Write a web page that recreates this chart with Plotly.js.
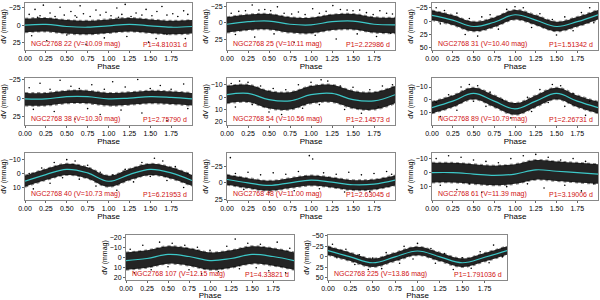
<!DOCTYPE html>
<html><head><meta charset="utf-8">
<script src="https://cdn.plot.ly/plotly-3.0.1.min.js"></script>
<style>html,body{margin:0;padding:0;background:#fff}#c{width:600px;height:300px}</style>
</head><body><div id="c"></div>
<script>
// Phase grid for fit curves and dense-band envelopes
const phase = [0, 0.25, 0.5, 0.75, 1.0, 1.25, 1.5, 1.75, 2.0];
const xTickVals = [0, 0.25, 0.5, 0.75, 1.0, 1.25, 1.5, 1.75];
const xTickText = ['0.00','0.25','0.50','0.75','1.00','1.25','1.50','1.75'];

const names = ['NGC2768 22 (V=10.09 mag)','NGC2768 25 (V=10.11 mag)','NGC2768 31 (V=10.40 mag)',
  'NGC2768 38 (V=10.30 mag)','NGC2768 54 (V=10.56 mag)','NGC2768 89 (V=10.79 mag)',
  'NGC2768 40 (V=10.73 mag)','NGC2768 48 (V=11.00 mag)','NGC2768 61 (V=11.39 mag)',
  'NGC2768 107 (V=12.15 mag)','NGC2768 225 (V=13.86 mag)'];
const periods = ['P1=4.81031 d','P1=2.22986 d','P1=1.51342 d','P1=2.75790 d','P1=2.14573 d',
  'P1=2.26731 d','P1=6.21953 d','P1=2.63045 d','P1=3.19006 d','P1=4.33821 d','P1=1.791036 d'];

// fitted curves (dV, mmag) at phase grid
const fit1 = [0, -1, 2, 3, 1, -1, 1, 3, 2];
const fit2 = [2, -2, -3, 2, 3, -2, -3, 2, 3];
const fit3 = [-11, -2, 10, 2, -12, -2, 10, 1, -12];
const fit4 = [1, 1, -2, -2, 1, 0, -2, -1, 1];
const fit5 = [-2, -3, 2, 3, -2, -3, 2, 3, -2];
const fit6 = [6, 1, -5, 1, 7, 1, -5, 1, 6];
const fit7 = [5.5, 0.7, -3, -0.5, 5.5, 0.7, -3, -0.5, 5];
const fit8 = [-5, 0, 4, 0, -4, -1, 3, 2, -4];
const fit9 = [0, 0, 1, 2, 1, -2, -1, 0, 1];
const fit10 = [3, 1, -3, -1, 3, 1, -3, -1, 3];
const fit11 = [-15, 0, 14, 0, -14, 0, 14, 1, -15];

// dense data band: upper (bright, negative) and lower envelopes
const lo1 = [-9, -10, -7, -6, -8, -10, -8, -6, -7];
const hi1 = [10, 9, 12, 13, 11, 9, 11, 13, 12];
const lo2 = [-9, -13, -14, -9, -8, -13, -14, -9, -8];
const hi2 = [15, 11, 10, 15, 16, 11, 10, 15, 16];
const lo3 = [-20, -11, 1, -7, -21, -11, 1, -8, -21];
const hi3 = [-2, 7, 19, 11, -3, 7, 19, 10, -3];
const lo4 = [-7, -7, -10, -10, -7, -8, -10, -9, -7];
const hi4 = [10, 10, 7, 7, 10, 9, 7, 8, 10];
const lo5 = [-9, -10, -5, -4, -9, -10, -5, -4, -9];
const hi5 = [5, 4, 9, 10, 5, 4, 9, 10, 5];
const lo6 = [1.5, -3.5, -9.5, -3.5, 2.5, -3.5, -9.5, -3.5, 1.5];
const hi6 = [10.5, 5.5, -0.5, 5.5, 11.5, 5.5, -0.5, 5.5, 10.5];
const lo7 = [1.5, -3.3, -7, -4.5, 1.5, -3.3, -7, -4.5, 1];
const hi7 = [9.5, 4.7, 1, 3.5, 9.5, 4.7, 1, 3.5, 9];
const lo8 = [-12, -7, -3, -7, -11, -8, -4, -5, -11];
const hi8 = [3, 8, 12, 8, 4, 7, 11, 10, 4];
const lo9 = [-7, -7, -6, -5, -6, -9, -8, -7, -6];
const hi9 = [7, 7, 8, 9, 8, 5, 6, 7, 8];
const lo10 = [-5, -7, -11, -9, -5, -7, -11, -9, -5];
const hi10 = [12, 10, 6, 8, 12, 10, 6, 8, 12];
const lo11 = [-25, -10, 4, -10, -24, -10, 4, -9, -25];
const hi11 = [-5, 10, 24, 10, -4, 10, 24, 11, -5];

// scattered outlying points (phase, dV)
const outX1 = [0.05,0.12,0.18,0.22,0.3,0.36,0.42,0.47,0.55,0.6,0.66,0.7,0.78,0.85,0.9,0.97,1.03,1.1,1.16,1.2,1.27,1.33,1.4,1.45,1.52,1.58,1.64,1.7,1.77,1.83,1.9,1.95,0.08,0.26,0.5,0.73,0.95,1.22,1.48,1.7,1.92,0.15,0.62,1.12,1.57];
const outY1 = [-15,-22,-13,-28,-17,-12,-25,-14,-19,-13,-27,-16,-12,-21,-14,-18,-13,-24,-15,-29,-12,-17,-14,-22,-13,-19,-26,-14,-16,-12,-20,-15,15,22,14,27,18,16,24,13,19,-11,-11,-11,19];
const outX2 = [0.05,0.14,0.22,0.3,0.38,0.45,0.52,0.6,0.68,0.77,0.85,0.93,1.02,1.1,1.18,1.26,1.35,1.43,1.5,1.58,1.66,1.74,1.82,1.9,1.97,0.1,0.33,0.56,0.8,1.05,1.3,1.55,1.78,1.95];
const outY2 = [-15,-18,-19,-28,-20,-21,-19,-25,-15,-14,-17,-13,-22,-15,-18,-27,-21,-20,-19,-20,-16,-13,-19,-15,-14,18,22,17,30,19,25,17,21,16];
const outX3 = [0.05,0.15,0.3,0.45,0.6,0.7,0.9,1.0,1.1,1.3,1.45,1.6,1.8,1.9,0.1,0.4,0.55,0.8,1.2,1.5,1.7,1.95];
const outY3 = [-25,-20,-15,-5,-8,-12,-22,-27,-25,-14,-3,-8,-16,-25,5,25,28,15,12,26,18,3];
const outX4 = [0.05,0.18,0.3,0.42,0.55,0.65,0.8,0.95,1.05,1.2,1.35,1.5,1.62,1.75,1.9,0.1,0.35,0.6,0.75,0.9,1.15,1.4,1.7,1.95];
const outY4 = [-14,-20,-12,-24,-16,-13,-18,-12,-22,-15,-25,-13,-17,-12,-19,15,18,28,14,22,16,20,30,14];
const outX5 = [0.05,0.15,0.25,0.4,0.55,0.7,0.85,1.0,1.12,1.2,1.35,1.5,1.7,1.85,1.97,0.1,0.3,0.5,0.65,0.9,1.1,1.4,1.6,1.8];
const outY5 = [-11,-13,-12,-9,-7,-6,-10,-12,-14,-13,-9,-8,-6,-9,-10,8,6,12,14,9,6,10,13,8];
const outX6 = [0.05,0.2,0.35,0.45,0.55,0.7,0.85,1.0,1.15,1.3,1.45,1.55,1.7,1.9,0.1,0.3,0.5,0.65,0.95,1.2,1.4,1.6,1.85];
const outY6 = [2,-4,-10,-12,-11,-6,0,3,-2,-8,-12,-11,-5,1,13,8,1,5,14,9,2,5,12];
const outX7 = [0.05,0.2,0.35,0.5,0.6,0.75,0.9,1.05,1.2,1.4,1.55,1.65,1.8,1.95,0.1,0.3,0.45,0.65,0.85,1.1,1.3,1.5,1.7,1.9];
const outY7 = [0,-4,-8,-10,-9,-6,-1,1,-3,-8,-11,-9,-5,0,11,7,3,4,9,12,6,2,5,10];
const outX8 = [0.04,0.1,0.25,0.4,0.55,0.7,0.85,0.98,1.02,1.15,1.3,1.45,1.6,1.75,1.9,1.96,0.2,0.5,0.8,1.1,1.4,1.7];
const outY8 = [-38,-14,-16,-12,-15,-13,-17,-41,-36,-15,-13,-16,-12,-14,-17,-13,10,15,12,9,14,13];
const outX9 = [0.05,0.2,0.35,0.5,0.65,0.8,0.95,1.1,1.25,1.4,1.55,1.7,1.85,0.1,0.3,0.45,0.6,0.9,1.15,1.35,1.6,1.8,1.95];
const outY9 = [-10,-12,-11,-9,-8,-7,-10,-12,-13,-11,-9,-10,-8,9,12,8,14,10,8,11,9,13,8];
const outX10 = [0.05,0.2,0.4,0.55,0.7,0.85,1.0,1.2,1.3,1.45,1.6,1.8,1.95,0.1,0.3,0.5,0.75,0.9,1.1,1.35,1.55,1.7,1.9];
const outY10 = [-8,-12,-15,-14,-12,-10,-7,-11,-18,-14,-13,-15,-9,15,12,9,12,16,14,11,10,13,15];
const outX11 = [0.05,0.2,0.35,0.5,0.65,0.85,1.0,1.15,1.3,1.5,1.7,1.85,0.1,0.3,0.45,0.6,0.8,0.95,1.2,1.4,1.6,1.8,1.95];
const outY11 = [-30,-18,-5,3,-10,-25,-32,-20,-8,2,-12,-28,2,18,30,28,15,5,15,30,27,14,0];

// y-axis ranges (reversed: bright at top) and ticks
const yRanges = [[35,-31],[42,-31],[54,-34],[36,-27],[22.5,-15.5],[19.5,-17],[19,-14.8],[26,-45],[19.5,-14],[22,-22],[55,-52]];
const yTicks = [[-25,0,25],[-25,0,25],[-25,0,25,50],[-25,0,25],[-10,0,10,20],[-10,0,10],[-10,0,10],[-25,0,25],[-10,0,10],[-20,-10,0,10,20],[-50,-25,0,25,50]];

const fits = [fit1,fit2,fit3,fit4,fit5,fit6,fit7,fit8,fit9,fit10,fit11];
const los = [lo1,lo2,lo3,lo4,lo5,lo6,lo7,lo8,lo9,lo10,lo11];
const his = [hi1,hi2,hi3,hi4,hi5,hi6,hi7,hi8,hi9,hi10,hi11];
const outXs = [outX1,outX2,outX3,outX4,outX5,outX6,outX7,outX8,outX9,outX10,outX11];
const outYs = [outY1,outY2,outY3,outY4,outY5,outY6,outY7,outY8,outY9,outY10,outY11];

// panel boxes in pixels [x0,x1,y0,y1]
const W = 600, H = 300;
const boxes = [
  [25,192,3,50],[227,395,3,50],[432,598,3,50],
  [25,192,78,125],[227,395,78,125],[432,598,78,125],
  [25,192,153,200],[227,395,153,200],[432,598,153,200],
  [126,294,235,280],[328,507,235,280]
];

const traces = [];
const layout = {
  width: W, height: H, margin: {l:0,r:0,t:0,b:0},
  paper_bgcolor: '#fff', plot_bgcolor: '#fff', showlegend: false,
  font: {family: 'Liberation Sans, Arial, sans-serif', size: 7, color: '#000'},
  annotations: []
};

for (let i = 0; i < 11; i++) {
  const s = i === 0 ? '' : String(i + 1);
  const xa = 'x' + s, ya = 'y' + s;
  const b = boxes[i];
  const edge = {shape: 'spline', smoothing: 1.1, width: 2, color: 'rgba(0,0,0,0.45)', dash: 'dot'};
  traces.push({x: phase, y: los[i], xaxis: xa, yaxis: ya, mode: 'lines', line: {...edge}, hoverinfo: 'skip'});
  traces.push({x: phase, y: his[i], xaxis: xa, yaxis: ya, mode: 'lines', line: {...edge}, fill: 'tonexty', fillcolor: 'rgba(0,0,0,0.86)', hoverinfo: 'skip'});
  traces.push({x: outXs[i], y: outYs[i], xaxis: xa, yaxis: ya, mode: 'markers', marker: {size: 1.6, color: '#000'}});
  traces.push({x: phase, y: fits[i], xaxis: xa, yaxis: ya, mode: 'lines', line: {color: '#3cc8c8', width: 1.2, shape: 'spline', smoothing: 1.1}});

  layout['xaxis' + s] = {
    domain: [b[0]/W, b[1]/W], anchor: ya, range: [0, 2],
    tickvals: xTickVals, ticktext: xTickText, ticks: 'outside', ticklen: 2, tickcolor: '#666',
    showline: true, mirror: true, linecolor: '#888', linewidth: 1, showgrid: false, zeroline: false,
    tickfont: {size: 7}, title: {text: 'Phase', font: {size: 8}, standoff: 0}
  };
  layout['yaxis' + s] = {
    domain: [1 - b[3]/H, 1 - b[2]/H], anchor: xa, range: yRanges[i],
    tickvals: yTicks[i], ticks: 'outside', ticklen: 2, tickcolor: '#666',
    showline: true, mirror: true, linecolor: '#888', linewidth: 1, showgrid: false, zeroline: false,
    tickfont: {size: 7}, title: {text: 'dV (mmag)', font: {size: 7}, standoff: 1}
  };
  layout.annotations.push({xref: 'paper', yref: 'paper', x: (b[0] + 4)/W, y: 1 - (b[3] - 0.5)/H,
    xanchor: 'left', yanchor: 'bottom', text: names[i], showarrow: false, font: {size: 7, color: '#d01010'}});
  layout.annotations.push({xref: 'paper', yref: 'paper', x: (b[1] - 3)/W, y: 1 - (b[3] - 0.5)/H,
    xanchor: 'right', yanchor: 'bottom', text: periods[i], showarrow: false, font: {size: 7, color: '#d01010'}});
}

Plotly.newPlot('c', traces, layout, {staticPlot: true, displayModeBar: false});
</script></body></html>
